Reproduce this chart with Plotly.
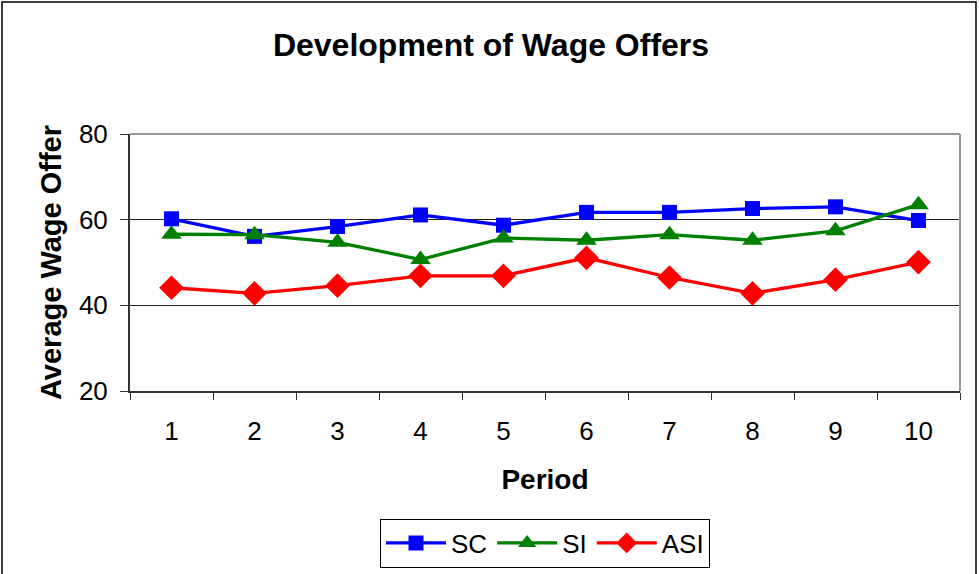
import plotly.graph_objects as go

periods = ["1", "2", "3", "4", "5", "6", "7", "8", "9", "10"]
sc = [60.2, 56.1, 58.4, 61.1, 58.7, 61.7, 61.7, 62.6, 63.0, 59.8]
si = [56.6, 56.5, 54.7, 50.7, 55.7, 55.2, 56.5, 55.2, 57.4, 63.5]
asi = [44.1, 42.8, 44.6, 46.9, 46.9, 51.1, 46.5, 42.8, 46.0, 50.1]

series = [
    ("SC", sc, "#0000FF", "square", 15),
    ("SI", si, "#008000", "triangle-up", 18),
    ("ASI", asi, "#FF0000", "diamond", 19),
]

W, H = 979, 574
L, R, T, B = 130, 19, 134, 183
pw, ph = W - L - R, H - T - B

fig = go.Figure()
for name, vals, col, sym, sz in series:
    fig.add_trace(go.Scatter(
        x=periods, y=vals, name=name, mode="lines+markers",
        line=dict(color=col, width=3.3),
        marker=dict(symbol=sym, size=sz, color=col),
    ))

font = "Liberation Sans, Arial, sans-serif"
fig.update_layout(
    width=W, height=H,
    margin=dict(l=L, r=R, t=T, b=B, pad=0, autoexpand=False),
    paper_bgcolor="white", plot_bgcolor="white",
    font=dict(family=font, size=26, color="black"),
    title=dict(text="<b>Development of Wage Offers</b>", x=491 / W, xanchor="center",
               y=1 - 45 / H, yanchor="middle", font=dict(size=32)),
    showlegend=True,
    legend=dict(orientation="h", x=(545 - L) / pw, xanchor="center", y=(391 - 543) / ph,
                yanchor="middle", bordercolor="black", borderwidth=1, itemwidth=60,
                font=dict(size=26), tracegroupgap=0, itemsizing="trace"),
    xaxis=dict(type="category", range=[-0.5, len(periods) - 0.5], tickson="boundaries",
               ticks="outside", ticklen=7,
               tickcolor="#333", showline=True, linecolor="#333", linewidth=2,
               showgrid=False, mirror=False, tickfont=dict(size=26), ticklabelstandoff=16,
               title=dict(text="<b>Period</b>", font=dict(size=28), standoff=24)),
    yaxis=dict(range=[20, 80], tickvals=[20, 40, 60, 80], ticks="outside", ticklen=8,
               tickcolor="#333", showline=True, linecolor="#333", linewidth=2,
               showgrid=True, gridcolor="#222", gridwidth=1, zeroline=False,
               tickfont=dict(size=26), ticklabelstandoff=7,
               title=dict(text="<b>Average Wage Offer</b>", font=dict(size=29), standoff=9)),
    shapes=[
        dict(type="line", xref="paper", yref="paper", x0=0, x1=1, y0=1, y1=1,
             line=dict(color="#999999", width=2)),
        dict(type="line", xref="paper", yref="paper", x0=1, x1=1, y0=0, y1=1,
             line=dict(color="#999999", width=2)),
        dict(type="rect", xref="paper", yref="paper",
             x0=(2 - L) / pw, x1=(976 - L) / pw, y0=(T + ph - 590) / ph, y1=(T + ph - 2) / ph,
             line=dict(color="black", width=1.5), fillcolor="rgba(0,0,0,0)", layer="above"),
    ],
)

fig.write_html("out.html", config={"displayModeBar": False},
               post_script="document.body.style.margin='0';")
